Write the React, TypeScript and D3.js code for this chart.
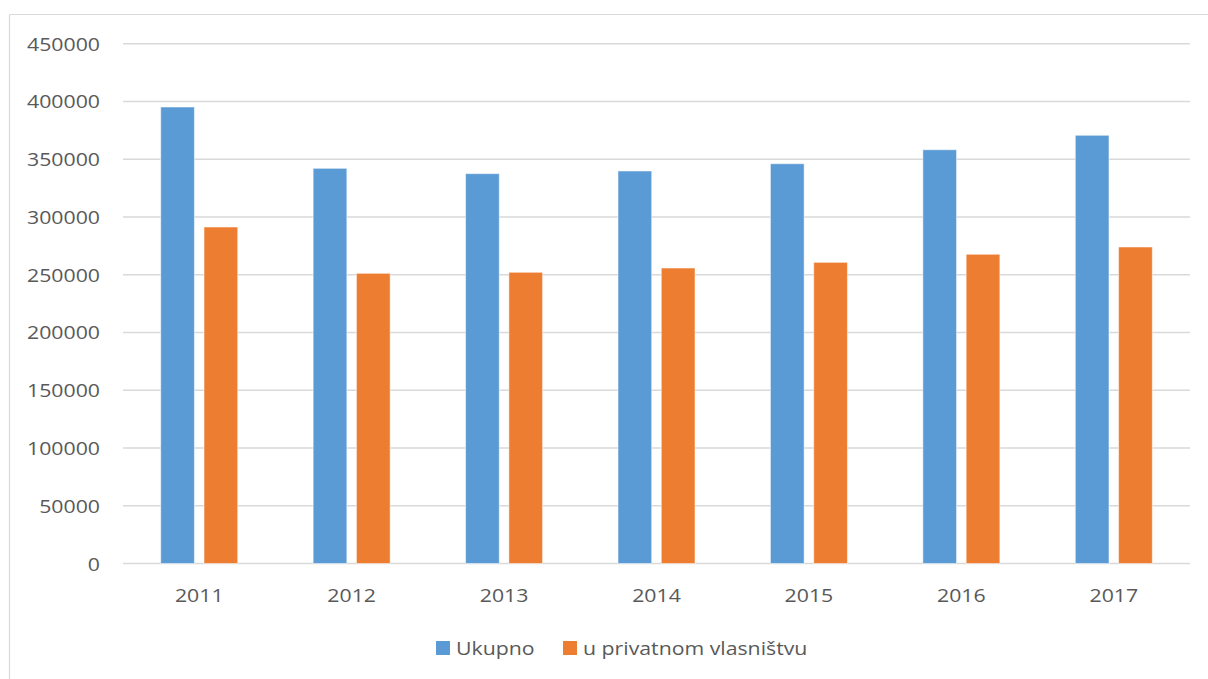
import React from "react";
import * as d3 from "d3";

// Years on the category axis
const years = ["2011", "2012", "2013", "2014", "2015", "2016", "2017"];
// Series values
const ukupno = [395200, 342100, 337500, 339800, 346100, 358200, 370700];
const privatno = [291300, 251200, 252100, 255800, 260700, 267700, 274000];
// Legend / series labels
const seriesNames = ["Ukupno", "u privatnom vlasništvu"];
const seriesColors = ["#5b9bd5", "#ed7d31"];
// Y ticks
const yTicks = [0, 50000, 100000, 150000, 200000, 250000, 300000, 350000, 400000, 450000];

const W = 1208;
const H = 679;
const FONT = "'Open Sans', 'Liberation Sans', sans-serif";
const TEXT = "#595959";
const GRID = "#d9d9d9";
const SX = 1.12;

export default function App() {
  const x0 = d3.scaleBand<string>().domain(years).range([123, 1190]).padding(0);
  const groupW = 77;
  const x1 = d3
    .scaleBand<string>()
    .domain(seriesNames)
    .range([0, groupW])
    .paddingInner(0.222)
    .paddingOuter(0);
  const y = d3.scaleLinear().domain([0, 450000]).range([563.5, 43.7]);

  const series = [ukupno, privatno];

  return (
    <div style={{ position: "absolute", left: 0, top: 0 }}>
      <svg width={W} height={H} style={{ display: "block", background: "#fff" }}>
        {/* chart frame */}
        <line x1={9.5} x2={W} y1={14.5} y2={14.5} stroke={GRID} strokeWidth={1.2} />
        <line x1={9.5} x2={9.5} y1={14.5} y2={H} stroke={GRID} strokeWidth={1.2} />

        {/* gridlines */}
        {yTicks.map((t) => (
          <line
            key={"g" + t}
            x1={123}
            x2={1190}
            y1={y(t)}
            y2={y(t)}
            stroke={GRID}
            strokeWidth={1.6}
          />
        ))}

        {/* y labels */}
        {yTicks.map((t) => (
          <text
            key={"t" + t}
            transform={`translate(100,${y(t) + 7}) scale(${SX},1)`}
            textAnchor="end"
            fontFamily={FONT}
            fontSize={19}
            fill={TEXT}
          >
            {String(t)}
          </text>
        ))}

        {/* bars */}
        {years.map((yr, i) => (
          <g key={yr} transform={`translate(${x0(yr)! + (x0.bandwidth() - groupW) / 2},0)`}>
            {series.map((vals, s) => (
              <rect
                key={s}
                x={x1(seriesNames[s])}
                y={y(vals[i])}
                width={x1.bandwidth()}
                height={y(0) - y(vals[i])}
                fill={seriesColors[s]}
                stroke="#ffffff"
                strokeOpacity={0.5}
                strokeWidth={1}
              />
            ))}
          </g>
        ))}

        {/* year labels */}
        {years.map((yr) => (
          <text
            key={"x" + yr}
            transform={`translate(${x0(yr)! + x0.bandwidth() / 2},602) scale(${SX},1)`}
            textAnchor="middle"
            fontFamily={FONT}
            fontSize={19}
            fill={TEXT}
          >
            {yr}
          </text>
        ))}

        {/* legend */}
        <rect x={436} y={641} width={14} height={14} fill={seriesColors[0]} />
        <text
          transform={`translate(456,655) scale(${SX},1)`}
          fontFamily={FONT}
          fontSize={19}
          fill={TEXT}
        >
          {seriesNames[0]}
        </text>
        <rect x={563} y={641} width={14} height={14} fill={seriesColors[1]} />
        <text
          transform={`translate(583,655) scale(${SX},1)`}
          fontFamily={FONT}
          fontSize={19}
          fill={TEXT}
        >
          {seriesNames[1]}
        </text>
      </svg>
    </div>
  );
}
